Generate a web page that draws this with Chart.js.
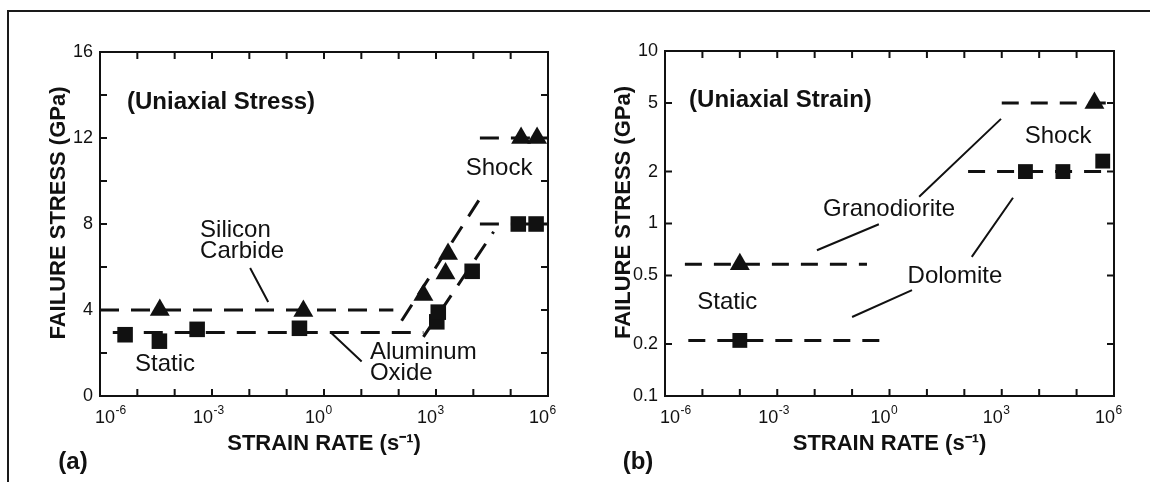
<!DOCTYPE html>
<html>
<head>
<meta charset="utf-8">
<script src="https://cdn.jsdelivr.net/npm/chart.js@4.4.1/dist/chart.umd.min.js"></script>
<style>
  html, body { margin: 0; padding: 0; background: #fff; }
  body { width: 1150px; height: 482px; position: relative; overflow: hidden; }
  #frame { position: absolute; left: 7px; top: 10px; width: 1150px; height: 480px;
           border-top: 2px solid #1a1a1a; border-left: 2px solid #1a1a1a; }
  canvas { position: absolute; top: 0; }
  #stress { left: 0; }
  #strain { left: 565px; }
</style>
</head>
<body>
<div id="frame"></div>
<canvas id="stress" width="575" height="482"></canvas>
<canvas id="strain" width="585" height="482"></canvas>
<script>
const FONT = '"Liberation Sans", Arial, Helvetica, sans-serif';
const INK = "#111";

// shared strain-rate axis: a tick every decade, a label every third
const rateTicks = [1e-6, 1e-5, 1e-4, 1e-3, 1e-2, 1e-1, 1, 1e1, 1e2, 1e3, 1e4, 1e5, 1e6];
const rateLabelExps = [-6, -3, 0, 3, 6];

// (a) uniaxial stress
const stressTicksA = [0, 2, 4, 6, 8, 10, 12, 14, 16];
const stressLabelsA = [0, 4, 8, 12, 16];
const sicRate = [4e-5, 0.28, 460, 1800, 2100, 1.9e5, 5.1e5];
const sicStress = [4.0, 3.95, 4.7, 5.7, 6.6, 12, 12];
const aloxRate = [4.7e-6, 3.9e-5, 4e-4, 0.22, 1050, 1150, 9300, 1.6e5, 4.8e5];
const aloxStress = [2.85, 2.55, 3.1, 3.15, 3.45, 3.9, 5.8, 8, 8];
const sicStaticFit = [[1e-6, 4], [72, 4]];
const sicRiseFit = [[120, 3.5], [1.66e4, 9.3]];
const sicShockFit = [[1.5e4, 12], [1e6, 12]];
const aloxStaticFit = [[2.2e-6, 2.95], [460, 2.95]];
const aloxRiseFit = [[460, 2.75], [3.5e4, 7.64]];
const aloxShockFit = [[1.5e4, 8], [1e6, 8]];

// (b) uniaxial strain
const stressTicksB = [0.1, 0.2, 0.5, 1, 2, 5, 10];
const granoRate = [1e-4, 3e5];
const granoStress = [0.58, 5];
const doloRate = [1e-4, 4.3e3, 4.3e4, 5e5];
const doloStress = [0.21, 2.0, 2.0, 2.3];
const granoStaticFit = [[3.4e-6, 0.58], [0.25, 0.58]];
const granoShockFit = [[1e3, 5], [1e6, 5]];
const doloStaticFit = [[4.2e-6, 0.21], [0.62, 0.21]];
const doloShockFit = [[126, 2], [1e6, 2]];

// labels and leader lines, in data coordinates
const notesA = [
  { x: 5.3e-6, y: 13.67, text: "(Uniaxial Stress)", align: "left", bold: true },
  { x: 4.8e-4, y: 7.72, text: "Silicon", align: "left" },
  { x: 4.8e-4, y: 6.74, text: "Carbide", align: "left" },
  { x: 5.5e-5, y: 1.49, text: "Static", align: "center" },
  { x: 17, y: 2.05, text: "Aluminum", align: "left" },
  { x: 17, y: 1.07, text: "Oxide", align: "left" },
  { x: 4.9e4, y: 10.6, text: "Shock", align: "center" }
];
const leadersA = [
  [[0.0105, 5.95], [0.032, 4.37]],
  [[1.6, 2.92], [10.2, 1.6]]
];
const notesB = [
  { x: 4.4e-6, y: 5.2, text: "(Uniaxial Strain)", align: "left", bold: true },
  { x: 0.97, y: 1.2, text: "Granodiorite", align: "center" },
  { x: 56, y: 0.497, text: "Dolomite", align: "center" },
  { x: 4.6e-5, y: 0.351, text: "Static", align: "center" },
  { x: 3.2e4, y: 3.21, text: "Shock", align: "center" }
];
const leadersB = [
  [[0.0115, 0.70], [0.52, 0.99]],
  [[6.2, 1.43], [955, 4.04]],
  [[0.1, 0.287], [4.0, 0.411]],
  [[158, 0.64], [2000, 1.41]]
];

const toPoints = (xs, ys) => xs.map((x, i) => ({ x, y: ys[i] }));
const toSeg = (pairs) => pairs.map(([x, y]) => ({ x, y }));

const notesPlugin = {
  id: "notes",
  afterDatasetsDraw(chart, args, opts) {
    const { ctx, chartArea: a } = chart;
    const sx = chart.scales.x, sy = chart.scales.y;
    ctx.save();
    ctx.strokeStyle = INK;
    ctx.fillStyle = INK;

    // plot frame with inward ticks on all four sides
    ctx.lineWidth = 2;
    ctx.strokeRect(a.left, a.top, a.right - a.left, a.bottom - a.top);
    ctx.beginPath();
    sx.ticks.forEach((t) => {
      const p = sx.getPixelForValue(t.value);
      ctx.moveTo(p, a.bottom); ctx.lineTo(p, a.bottom - 7);
      ctx.moveTo(p, a.top); ctx.lineTo(p, a.top + 7);
    });
    sy.ticks.forEach((t) => {
      const p = sy.getPixelForValue(t.value);
      ctx.moveTo(a.left, p); ctx.lineTo(a.left + 7, p);
      ctx.moveTo(a.right, p); ctx.lineTo(a.right - 7, p);
    });
    ctx.stroke();

    // power-of-ten labels with a real superscript
    ctx.textBaseline = "alphabetic";
    ctx.textAlign = "left";
    rateLabelExps.forEach((e, i) => {
      const p = sx.getPixelForValue(Math.pow(10, e));
      ctx.font = "18px " + FONT;
      const wBase = ctx.measureText("10").width;
      const x0 = i === 0 ? p - 5 : p + 1 - wBase;
      ctx.fillText("10", x0, a.bottom + 27);
      ctx.font = "12px " + FONT;
      ctx.fillText(String(e), x0 + wBase + 0.5, a.bottom + 18);
    });

    // leader lines
    ctx.lineWidth = 2;
    ctx.beginPath();
    opts.leaders.forEach(([p, q]) => {
      ctx.moveTo(sx.getPixelForValue(p[0]), sy.getPixelForValue(p[1]));
      ctx.lineTo(sx.getPixelForValue(q[0]), sy.getPixelForValue(q[1]));
    });
    ctx.stroke();

    // text
    ctx.textBaseline = "middle";
    opts.notes.forEach((n) => {
      ctx.font = (n.bold ? "bold 24px " : "24px ") + FONT;
      ctx.textAlign = n.align;
      ctx.fillText(n.text, sx.getPixelForValue(n.x), sy.getPixelForValue(n.y));
    });

    ctx.font = "bold 24px " + FONT;
    ctx.textAlign = "center";
    ctx.fillText(opts.tag, a.left - 27, a.bottom + 66);

    // y axis title, a little above the axis centre as in the original
    ctx.font = "bold 22px " + FONT;
    ctx.translate(a.left - 41, (a.top + a.bottom) / 2 - 11);
    ctx.rotate(-Math.PI / 2);
    ctx.fillText("FAILURE STRESS (GPa)", 0, 0);
    ctx.restore();
  }
};

function fitLine(seg, dash) {
  return {
    data: toSeg(seg), showLine: true, pointRadius: 0, borderColor: INK,
    borderWidth: 3, borderDash: dash, borderCapStyle: "butt", order: 1
  };
}

function markers(xs, ys, style, r) {
  return {
    data: toPoints(xs, ys), showLine: false, pointStyle: style, pointRadius: r,
    backgroundColor: INK, borderColor: INK, borderWidth: 0, order: 0
  };
}

function makeChart(canvas, cfg) {
  return new Chart(canvas, {
    type: "scatter",
    data: { datasets: cfg.datasets },
    options: {
      responsive: false,
      animation: false,
      devicePixelRatio: 1,
      layout: { padding: { top: cfg.top, right: cfg.right, left: 0, bottom: 0 } },
      plugins: {
        legend: { display: false },
        tooltip: { enabled: false },
        notes: { notes: cfg.notes, leaders: cfg.leaders, tag: cfg.tag }
      },
      scales: {
        x: {
          type: "logarithmic",
          min: 1e-6,
          max: 1e6,
          afterBuildTicks: (s) => { s.ticks = rateTicks.map((v) => ({ value: v })); },
          afterFit: (s) => { s.height = 86; },
          grid: { display: false, drawTicks: false },
          border: { display: false },
          ticks: { display: false, autoSkip: false },
          title: {
            display: true, text: "STRAIN RATE (s⁻¹)", color: INK,
            font: { family: FONT, size: 22, weight: "bold" },
            padding: { top: 0, bottom: 25 }
          }
        },
        y: cfg.y
      }
    },
    plugins: [notesPlugin]
  });
}

makeChart(document.getElementById("stress"), {
  top: 52, right: 27, tag: "(a)", notes: notesA, leaders: leadersA,
  datasets: [
    markers(sicRate, sicStress, "triangle", 11.5),
    markers(aloxRate, aloxStress, "rect", 11),
    fitLine(sicStaticFit, [19, 12]),
    fitLine(sicRiseFit, [19, 12]),
    fitLine(sicShockFit, [19, 12]),
    fitLine(aloxStaticFit, [19, 12]),
    fitLine(aloxRiseFit, [19, 12]),
    fitLine(aloxShockFit, [19, 12])
  ],
  y: {
    type: "linear", min: 0, max: 16,
    afterBuildTicks: (s) => { s.ticks = stressTicksA.map((v) => ({ value: v })); },
    afterFit: (s) => { s.width = 100; },
    grid: { display: false, drawTicks: false },
    border: { display: false },
    ticks: {
      padding: 7, color: INK, font: { family: FONT, size: 18 },
      callback: (v) => (stressLabelsA.includes(v) ? String(v) : "")
    }
  }
});

makeChart(document.getElementById("strain"), {
  top: 51, right: 36, tag: "(b)", notes: notesB, leaders: leadersB,
  datasets: [
    markers(granoRate, granoStress, "triangle", 11.5),
    markers(doloRate, doloStress, "rect", 10.5),
    fitLine(granoStaticFit, [17, 12]),
    fitLine(granoShockFit, [17, 12]),
    fitLine(doloStaticFit, [17, 12]),
    fitLine(doloShockFit, [17, 12])
  ],
  y: {
    type: "logarithmic", min: 0.1, max: 10,
    afterBuildTicks: (s) => { s.ticks = stressTicksB.map((v) => ({ value: v })); },
    afterFit: (s) => { s.width = 100; },
    grid: { display: false, drawTicks: false },
    border: { display: false },
    ticks: {
      padding: 7, color: INK, font: { family: FONT, size: 18 },
      callback: (v) => String(v)
    }
  }
});
</script>
</body>
</html>
